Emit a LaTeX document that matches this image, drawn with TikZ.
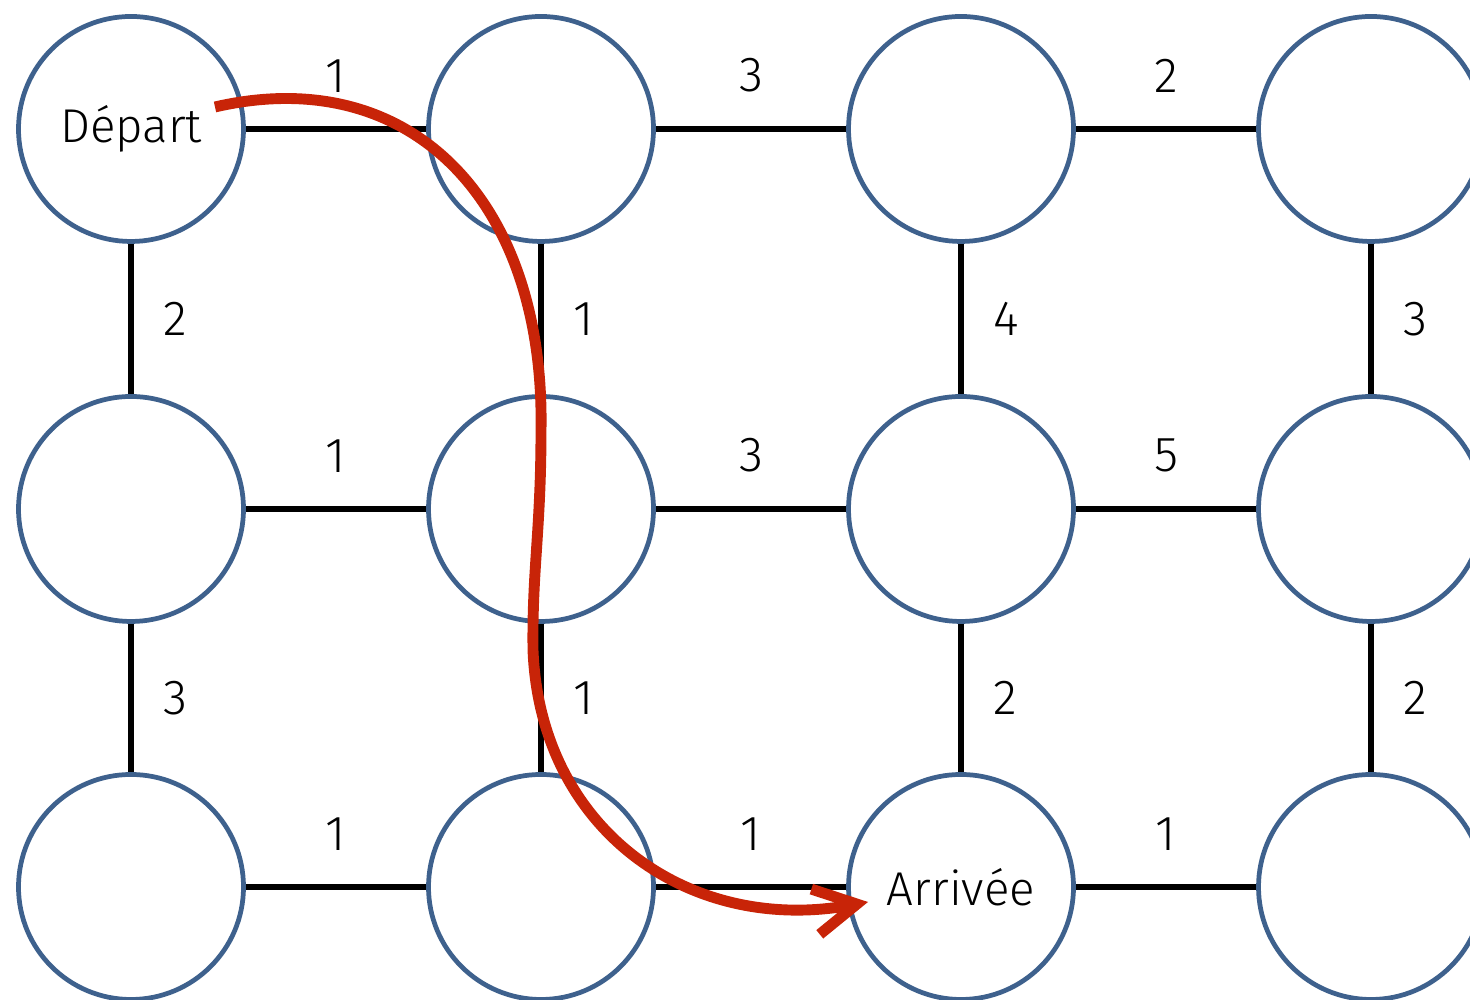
\documentclass[tikz,border=0pt]{standalone}
\usepackage{fontspec}
\setmainfont{Fira Sans}[UprightFont=* Light]
\usepackage{tikz}
\usetikzlibrary{arrows.meta}

\definecolor{siteblue}{RGB}{62,97,141}
\definecolor{routered}{RGB}{200,36,8}

\tikzset{
  site/.style={circle, draw=siteblue, line width=1.35pt, minimum size=2.25cm,
    inner sep=0pt, font=\fontsize{13.5}{15}\selectfont},
  edge/.style={line width=1.45pt},
  weight/.style={inner sep=0pt, font=\fontsize{14}{16}\selectfont},
  route/.style={draw=routered, line width=3.1pt,
    -{Straight Barb[length=4.2mm,width=4.6mm,sharp]}},
}

\begin{document}
\begin{tikzpicture}[]
    \useasboundingbox (0,0) rectangle (14.7,10);

    % draw nodes
    \foreach \name/\x/\y/\txt in {c11/1.31/8.71/Départ, c12/5.41/8.71/{}, c13/9.61/8.71/{}, c14/13.71/8.71/{},
                                  c21/1.31/4.91/{}, c22/5.41/4.91/{}, c23/9.61/4.91/{}, c24/13.71/4.91/{},
                                  c31/1.31/1.13/{}, c32/5.41/1.13/{}, c33/9.61/1.13/Arrivée, c34/13.71/1.13/{}}
      \node[site] (\name) at (\x,\y) {\txt};

    % draw horizontal edges
    \foreach \a/\b/\w in {c11/c12/1, c12/c13/3, c13/c14/2,
                          c21/c22/1, c22/c23/3, c23/c24/5,
                          c31/c32/1, c32/c33/1, c33/c34/1}
      \draw[edge] (\a) -- node[weight, above=0.34cm] {\w} (\b);

    % draw vertical edges
    \foreach \a/\b/\w in {c11/c21/2, c21/c31/3, c12/c22/1, c22/c32/1,
                          c13/c23/4, c23/c33/2, c14/c24/3, c24/c34/2}
      \draw[edge] (\a) -- node[weight, right=0.3cm] {\w} (\b);

    % draw route
    \coordinate (start) at (2.15,8.93);
    \coordinate (goal) at (8.68,0.98);
    \draw[route] (start) .. controls (4.10,9.38) and (5.45,8.00) .. (5.41,5.70)
      .. controls (5.41,4.70) and (5.32,4.30) .. (5.33,3.50)
      .. controls (5.40,1.70) and (6.90,0.65) .. (goal);
  \end{tikzpicture}
\end{document}
